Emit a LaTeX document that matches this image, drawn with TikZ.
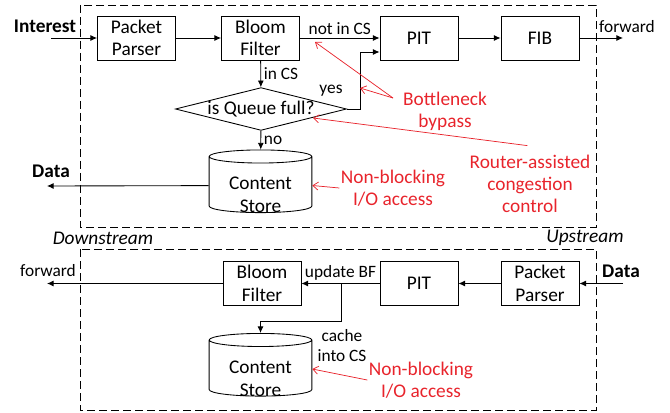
\documentclass[tikz,border=0pt]{standalone}
\usepackage{fontspec}
\setmainfont{Carlito}
\usepackage{tikz}
\usetikzlibrary{arrows.meta, positioning, shapes.geometric, calc}
\definecolor{notecol}{HTML}{E8242C}
\tikzset{
  blk/.style={draw, line width=0.65pt, align=center, minimum width=58.5pt, minimum height=33pt,
    inner sep=1pt, font=\fontsize{14.5}{17}\selectfont},
  dia/.style={draw, line width=0.65pt, diamond, aspect=4, inner sep=0pt, minimum width=127pt,
    minimum height=31.5pt, font=\fontsize{14.5}{17}\selectfont},
  store/.style={draw, line width=0.65pt, cylinder, shape border rotate=90, aspect=0.2, align=center,
    minimum width=77pt, minimum height=47pt, inner sep=1pt, font=\fontsize{14.5}{17}\selectfont},
  storetext/.style={align=center, inner sep=1pt, font=\fontsize{14.5}{17}\selectfont},
  lbl/.style={inner sep=2pt, align=center, font=\fontsize{13}{15}\selectfont},
  bold/.style={inner sep=1pt, font=\fontsize{14.5}{17}\selectfont\bfseries},
  side/.style={inner sep=1pt, font=\fontsize{14.5}{17}\selectfont\itshape},
  note/.style={text=notecol, align=center, inner sep=1pt, font=\fontsize{14.5}{16.5}\selectfont},
  arr/.style={line width=0.65pt, -{Latex[length=5pt,width=4.5pt]}},
  narr/.style={draw=notecol, line width=0.55pt, -{Straight Barb[length=4pt,width=6pt]}},
  dashbox/.style={line width=0.65pt, dash pattern=on 6pt off 3pt}
}
\begin{document}
\begin{tikzpicture}[x=0.75pt,y=-0.75pt]
  \useasboundingbox (0,0) rectangle (670,413);
  % section frames
  \draw[dashbox] (80,5) rectangle (596,227);
  \draw[dashbox] (80,249) rectangle (596,410);
  \node[side] (down) at (103,238) {Downstream};
  \node[side] (up) at (585,238) {Upstream};

  % interest path
  \node[blk] (pp1) at (136.5,38) {Packet\\Parser};
  \node[blk] (bf1) at (260.5,38) {Bloom\\Filter};
  \node[blk] (pit1) at (419,38) {PIT};
  \node[blk] (fib) at (540,38) {FIB};
  \node[dia] (queue) at (261,109) {is Queue full?};
  \node[store] (cs1) at (260.5,185.5) {\phantom{Content}\\\phantom{Store}};
  \node[storetext] (cs1txt) at (260.5,195) {Content\\Store};
  \node[bold] (interest) at (45,26) {Interest};
  \node[bold] (data1) at (51,171) {Data};
  \coordinate (intin) at (51,38);
  \coordinate (fwd1) at (623,38);
  \coordinate (dataout) at (47,186);
  \draw[arr] (intin) -- (pp1);
  \draw[arr] (pp1) -- (bf1);
  \draw[arr] (bf1) -- node[lbl,above] {not in CS} (pit1);
  \draw[arr] (pit1) -- (fib);
  \draw[arr] (fib) -- (fwd1);
  \node[lbl] (fwdlbl1) at (627,27) {forward};
  \draw[arr] (bf1) -- node[lbl,right] {in CS} (queue);
  \draw[arr] (queue.east) -- ++(13,0) |- ([yshift=-10.5pt]pit1.west);
  \node[lbl] (yes) at (331,91) {yes};
  \draw[arr] (queue) -- node[lbl,right] {no} (cs1);
  \draw[arr] (cs1) -- (dataout);

  % annotations
  \node[note] (bypass) at (445,111) {Bottleneck\\bypass};
  \coordinate (bpsrc) at (393,98);
  \draw[narr] (bpsrc) -- (360,88);
  \draw[narr] (bpsrc) -- (315,42);
  \node[note] (rac) at (530,184) {Router-assisted\\congestion\\control};
  \draw[narr] ([xshift=-2pt,yshift=6pt]rac.north) -- (313,118);
  \node[note] (nb1) at (393,188) {Non-blocking\\I/O access};
  \draw[narr] (nb1.west) -- (cs1.east);

  % data path
  \node[blk] (bf2) at (262,283.5) {Bloom\\Filter};
  \node[blk] (pit2) at (419,283.5) {PIT};
  \node[blk] (pp2) at (540,283.5) {Packet\\Parser};
  \node[store] (cs2) at (260.5,369) {\phantom{Content}\\\phantom{Store}};
  \node[storetext] (cs2txt) at (260.5,379) {Content\\Store};
  \node[bold] (data2) at (621,271) {Data};
  \coordinate (datain) at (623,283.5);
  \coordinate (fwd2) at (47,283.5);
  \coordinate (split) at (341,283.5);
  \draw[arr] (datain) -- (pp2);
  \draw[arr] (pp2) -- (pit2);
  \draw[arr] (pit2) -- node[lbl,above] {update BF} (bf2);
  \draw[arr] (bf2) -- (fwd2);
  \node[lbl] (fwdlbl2) at (48,271) {forward};
  \draw[arr] (split) -- ++(0,37.5) -| (cs2);
  \node[lbl] (cache) at (342,346) {cache\\into CS};
  \node[note] (nb2) at (421,380) {Non-blocking\\I/O access};
  \draw[narr] (nb2.west) -- (cs2.east);
\end{tikzpicture}
\end{document}
